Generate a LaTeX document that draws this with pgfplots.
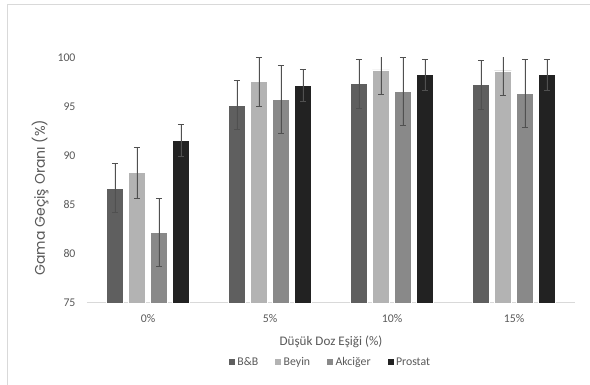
\documentclass[border=0pt]{standalone}
\usepackage{pgfplots}
\pgfplotsset{compat=1.18}
\usepackage{fontspec}
\setmainfont{Carlito}
\newfontfamily\ylabfont{Poppins}
\definecolor{cbb}{HTML}{5F5F5F}
\definecolor{cbe}{HTML}{B3B3B3}
\definecolor{cak}{HTML}{898989}
\definecolor{cpr}{HTML}{222222}
\definecolor{txt}{HTML}{595959}
\definecolor{errc}{HTML}{505050}
\begin{document}
\begin{tikzpicture}
\useasboundingbox (0,0) rectangle (590pt,385pt);
\fill[white] (0,0) rectangle (590pt,385pt);
\draw[draw={rgb,255:red,217;green,217;blue,217}, line width=0.8pt] (7pt,0) -- (7pt,381pt) -- (590pt,381pt);
\begin{axis}[
  at={(87pt,82pt)}, anchor=south west,
  scale only axis, width=488pt, height=245pt,
  ybar=5pt, bar width=17pt,
  xmin=-0.5, xmax=3.5, ymin=75, ymax=100,
  xtick={0,1,2,3}, xticklabels={0\%,5\%,10\%,15\%},
  ytick={75,80,85,90,95,100},
  major tick length=0pt,
  axis lines*=left,
  y axis line style={draw=none},
  x axis line style={draw={rgb,255:red,217;green,217;blue,217}, line width=1pt},
  tick label style={font=\fontsize{11.8}{13}\selectfont, text=txt},
  /pgf/number format/assume math mode=true,
  yticklabel style={xshift=-8pt},
  xticklabel style={yshift=-8pt},
  xlabel={Düşük Doz Eşiği (\%)},
  ylabel={\ylabfont Gama Geçiş Oranı (\%)},
  xlabel style={font=\fontsize{13.1}{15}\selectfont, text=txt, at={(axis description cs:0.5,-0.157)}, anchor=center},
  ylabel style={font=\fontsize{14}{16}\selectfont, text=txt, at={(axis description cs:-0.096,0.43)}, anchor=center, rotate=0},
  legend columns=4,
  legend style={at={(axis description cs:0.498,-0.241)}, anchor=center, draw=none, font=\fontsize{11.8}{13}\selectfont, text=txt, /tikz/every even column/.append style={column sep=14pt}},
  legend image code/.code={\fill[#1] (0pt,-3.5pt) rectangle (7pt,3.5pt);},
  error bars/y dir=both, error bars/y explicit,
  error bars/error bar style={errc, line width=0.7pt},
  error bars/error mark options={errc, mark size=3pt, line width=0.7pt, rotate=90},
]
\addplot[fill=cbb, draw=white, line width=0.4pt] coordinates {
 (0,86.7) +- (0,2.5) (1,95.2) +- (0,2.5) (2,97.4) +- (0,2.5) (3,97.3) +- (0,2.5)};
\addplot[fill=cbe, draw=white, line width=0.4pt] coordinates {
 (0,88.3) +- (0,2.6) (1,97.6) +- (0,2.5) (2,98.8) +- (0,2.5) (3,98.7) +- (0,2.5)};
\addplot[fill=cak, draw=white, line width=0.4pt] coordinates {
 (0,82.2) +- (0,3.5) (1,95.8) +- (0,3.5) (2,96.6) +- (0,3.5) (3,96.4) +- (0,3.5)};
\addplot[fill=cpr, draw=white, line width=0.4pt] coordinates {
 (0,91.6) +- (0,1.6) (1,97.2) +- (0,1.6) (2,98.3) +- (0,1.6) (3,98.3) +- (0,1.6)};
\legend{B\&B,Beyin,Akciğer,Prostat}
\end{axis}
\end{tikzpicture}
\end{document}
